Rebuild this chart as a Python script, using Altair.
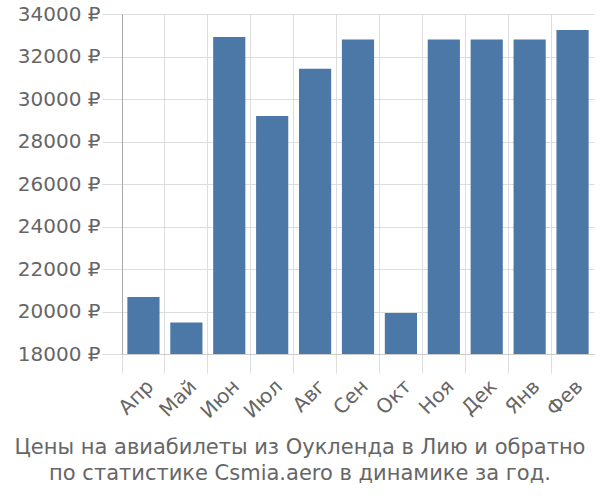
import altair as alt
import pandas as pd

months = ["Апр", "Май", "Июн", "Июл", "Авг", "Сен", "Окт", "Ноя", "Дек", "Янв", "Фев"]
prices = [20680, 19480, 32920, 29200, 31420, 32800, 19930, 32800, 32800, 32800, 33250]
y_ticks = [18000, 20000, 22000, 24000, 26000, 28000, 30000, 32000, 34000]
title_lines = ["Цены на авиабилеты из Оукленда в Лию и обратно",
               "по статистике Csmia.aero в динамике за год."]

FONT = "DejaVu Sans"
df = pd.DataFrame({"month": months, "price": prices})

chart = alt.Chart(df).mark_bar(
    color="#4c78a8", width=alt.RelativeBandSize(0.75), clip=True
).encode(
    x=alt.X("month:N", sort=months, title=None,
            scale=alt.Scale(paddingInner=0, paddingOuter=0),
            axis=alt.Axis(labelAngle=-45, labelFontSize=20, labelColor="#666666",
                          labelFont=FONT, bandPosition=0,
                          grid=True, gridColor="#dddddd", tickColor="#dddddd",
                          tickSize=19, domainColor="#cccccc", labelPadding=3)),
    y=alt.Y("price:Q", title=None,
            scale=alt.Scale(domain=[18000, 34000], nice=False, zero=False),
            axis=alt.Axis(values=y_ticks, labelExpr="format(datum.value,'d') + ' ₽'",
                          labelFontSize=20, labelColor="#666666", labelFont=FONT,
                          gridColor="#dddddd", tickColor="#dddddd", tickSize=20,
                          domainColor="#aaaaaa", labelPadding=2)),
).properties(
    width=472, height=340,
    autosize="none",
    padding={"left": 122, "top": 14, "right": 6, "bottom": 146},
    title=alt.TitleParams(text=title_lines, orient="bottom", anchor="middle",
                          fontSize=21, font=FONT, fontWeight="normal",
                          color="#666666", offset=15, lineHeight=26, dx=-58),
).configure_view(stroke=None)

chart.save("out.html", embed_options={"renderer": "svg", "actions": False})
